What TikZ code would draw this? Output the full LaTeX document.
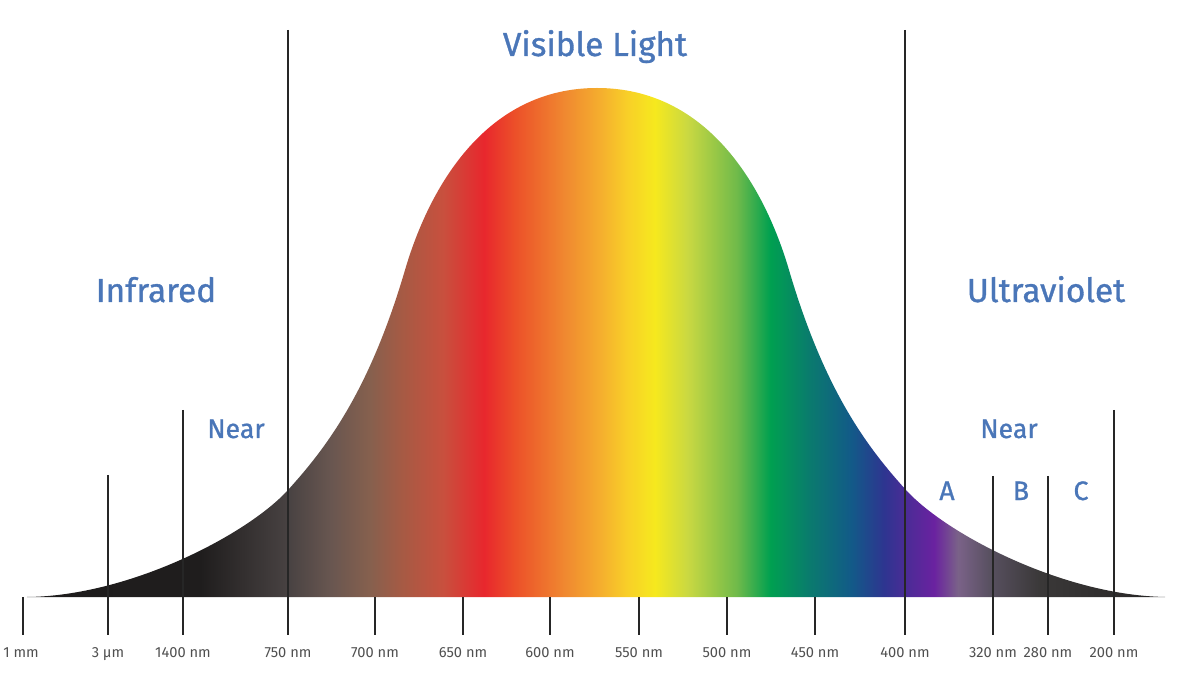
\documentclass[tikz,border=0pt]{standalone}
\usepackage{fontspec}
\setmainfont{Fira Sans}
\newfontfamily\titlefont{Fira Sans}[FakeBold=1]
\definecolor{s01}{HTML}{1E1C1C}
\definecolor{s02}{HTML}{1F1D1D}
\definecolor{s03}{HTML}{484242}
\definecolor{s04}{HTML}{685650}
\definecolor{s05}{HTML}{86604E}
\definecolor{s06}{HTML}{A65A44}
\definecolor{s07}{HTML}{C8503E}
\definecolor{s08}{HTML}{E8272D}
\definecolor{s09}{HTML}{EC5029}
\definecolor{s10}{HTML}{F08A30}
\definecolor{s11}{HTML}{F5AE2E}
\definecolor{s12}{HTML}{F8CF28}
\definecolor{s13}{HTML}{F6E91E}
\definecolor{s14}{HTML}{C9D842}
\definecolor{s15}{HTML}{6FBA4A}
\definecolor{s16}{HTML}{00A050}
\definecolor{s17}{HTML}{0A7A6E}
\definecolor{s18}{HTML}{125A88}
\definecolor{s19}{HTML}{2E3590}
\definecolor{s20}{HTML}{4A2C96}
\definecolor{s21}{HTML}{6A22A0}
\definecolor{s22}{HTML}{7A6288}
\definecolor{s23}{HTML}{585060}
\definecolor{s24}{HTML}{3A3838}
\definecolor{s25}{HTML}{262424}
\definecolor{linecol}{HTML}{262626}
\definecolor{labcol}{HTML}{505050}
\definecolor{bluetxt}{HTML}{4A76B8}
\pgfdeclarehorizontalshading{spectrum}{100bp}{%
color(0bp)=(s01); color(25bp)=(s01); color(32.68bp)=(s02); color(36.54bp)=(s03);
color(38.38bp)=(s04); color(40.13bp)=(s05); color(41.54bp)=(s06); color(43.33bp)=(s07);
color(45.13bp)=(s08); color(46.49bp)=(s09); color(48.73bp)=(s10); color(50.22bp)=(s11);
color(51.40bp)=(s12); color(52.63bp)=(s13); color(54.08bp)=(s14); color(56.23bp)=(s15);
color(57.68bp)=(s16); color(59.43bp)=(s17); color(61.23bp)=(s18); color(62.68bp)=(s19);
color(63.60bp)=(s20); color(64.87bp)=(s21); color(65.92bp)=(s22); color(67.32bp)=(s23);
color(69.52bp)=(s24); color(75bp)=(s25); color(100bp)=(s25)}
\begin{document}
\begin{tikzpicture}[x=0.75pt,y=-0.75pt,
  vline/.style={line width=1.5pt,draw=linecol},
  tlabel/.style={anchor=base,font=\fontsize{11}{13}\selectfont,text=labcol,inner sep=0pt},
  biglabel/.style={anchor=base,font=\titlefont\fontsize{25}{30}\selectfont,text=bluetxt,inner sep=0pt},
  midlabel/.style={anchor=base,font=\titlefont\fontsize{20}{24}\selectfont,text=bluetxt,inner sep=0pt}]
\useasboundingbox (0,0) rectangle (1200,673);
% spectrum curve
\begin{scope}
\clip (27,597) .. controls (130,596) and (248,534) .. (288,490)
  .. controls (328,446) and (370,389) .. (405,270)
  .. controls (430,185) and (487,88) .. (597,88)
  .. controls (707,88) and (764,185) .. (789,270)
  .. controls (824,389) and (866,446) .. (906,490)
  .. controls (946,534) and (1064,596) .. (1167,597) -- cycle;
\shade[shading=spectrum] (25,0) rectangle (1165,600);
\end{scope}
% long lines
\coordinate (t750) at (288,30);  \coordinate (b750) at (288,635);
\coordinate (t400) at (905,30);  \coordinate (b400) at (905,635);
\coordinate (t1400) at (183,410); \coordinate (b1400) at (183,635);
\coordinate (t3um) at (108,475); \coordinate (b3um) at (108,635);
\coordinate (t320) at (993,476); \coordinate (b320) at (993,635);
\coordinate (t280) at (1048,476); \coordinate (b280) at (1048,635);
\coordinate (t200) at (1114,410); \coordinate (b200) at (1114,635);
\foreach \n in {750,400,1400,3um,320,280,200}{\draw[vline] (t\n) -- (b\n);}
% short ticks
\foreach \n/\x in {1mm/23,700/375,650/463,600/550,550/639,500/727,450/815}{
  \coordinate (t\n) at (\x,597); \coordinate (b\n) at (\x,635);
  \draw[vline] (t\n) -- (b\n);}
% tick labels
\node[tlabel] (l1mm) at (21,657) {1 mm};
\node[tlabel] (l3um) at (108,657) {3 μm};
\node[tlabel] (l1400) at (183,657) {1400 nm};
\node[tlabel] (l750) at (288,657) {750 nm};
\node[tlabel] (l700) at (375,657) {700 nm};
\node[tlabel] (l650) at (463,657) {650 nm};
\node[tlabel] (l600) at (550,657) {600 nm};
\node[tlabel] (l550) at (639,657) {550 nm};
\node[tlabel] (l500) at (727,657) {500 nm};
\node[tlabel] (l450) at (815,657) {450 nm};
\node[tlabel] (l400) at (905,657) {400 nm};
\node[tlabel] (l320) at (993,657) {320 nm};
\node[tlabel] (l280) at (1048,657) {280 nm};
\node[tlabel] (l200) at (1114,657) {200 nm};
% region labels
\node[biglabel] (vis) at (595,56) {Visible Light};
\node[biglabel] (ir) at (156,302) {Infrared};
\node[biglabel] (uv) at (1046,302) {Ultraviolet};
\node[midlabel] (nearir) at (236,438) {Near};
\node[midlabel] (nearuv) at (1009,438) {Near};
\node[midlabel] (uva) at (947,500) {A};
\node[midlabel] (uvb) at (1021,500) {B};
\node[midlabel] (uvc) at (1081,500) {C};
\end{tikzpicture}
\end{document}
